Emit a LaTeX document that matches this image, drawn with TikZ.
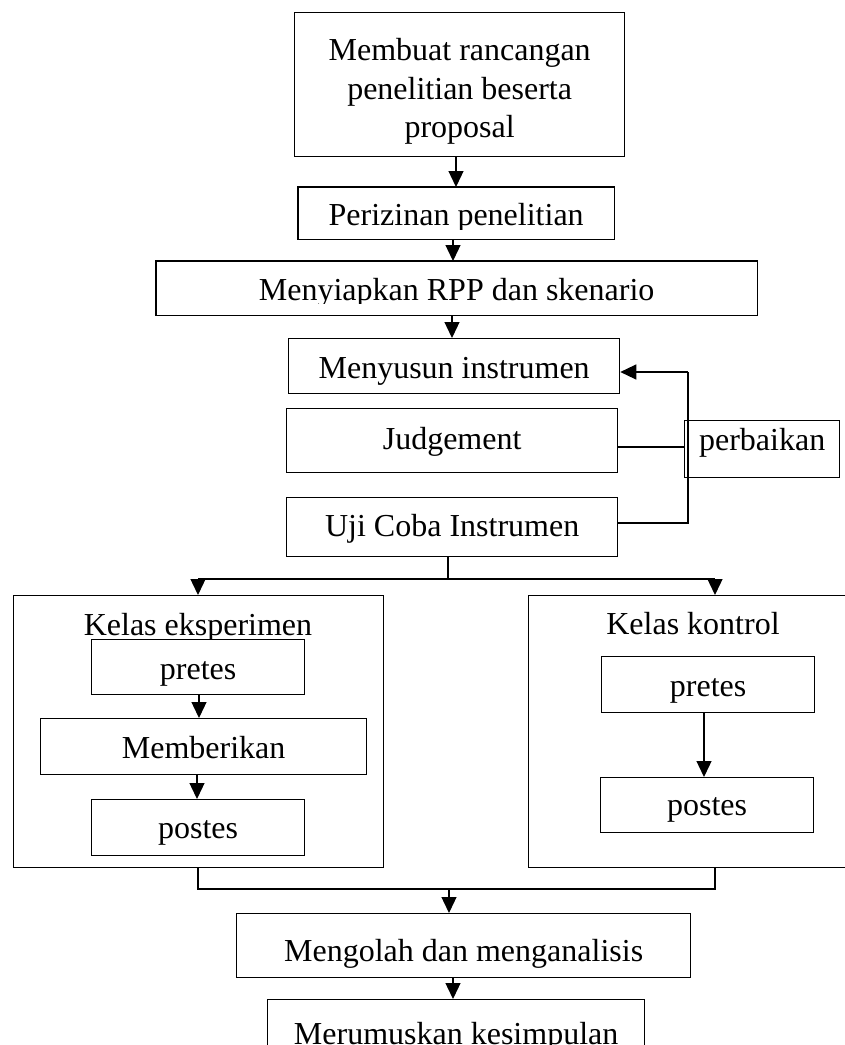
\documentclass[tikz,border=0pt]{standalone}
\usepackage{fontspec}
\setmainfont{Liberation Serif}
\usetikzlibrary{arrows.meta}
\newcommand\myfs{\fontsize{32}{38.5}\selectfont}
\begin{document}
\begin{tikzpicture}[x=1pt,y=-1pt,
  box/.style={draw, line width=1.3pt, inner sep=0pt, anchor=north west, font=\myfs, text depth=0pt},
  bw/.style={minimum width=#1},
  bh/.style={minimum height=#1},
  off/.style={text height=#1},
  conn/.style={line width=1.3pt},
  arr/.style={line width=1.3pt, -{Triangle[length=16pt,width=15pt]}},
  lbl/.style={inner sep=0pt, anchor=base, font=\myfs}
]
\useasboundingbox (0,0) rectangle (845,1045);
\clip (0,0) rectangle (845,1045);

% top chain
\node[box, bw=330, bh=144, text height=0pt, text depth=48pt] (b1) at (294,12)
  {\begin{tabular}[t]{@{}c@{}}Membuat rancangan\\penelitian beserta\\proposal\end{tabular}};

\begin{scope}
  \clip (280,180) rectangle (630,229);
  \node[box, draw=none, bw=315, bh=51, off=25pt] (b2) at (298,187) {Perizinan penelitian};
\end{scope}
\draw[line width=1.3pt] (b2.north west) rectangle (b2.south east);

\begin{scope}
  \clip (140,255) rectangle (770,303);
  \node[box, draw=none, bw=600, bh=53, off=25pt] (b3) at (156,261) {Menyiapkan RPP dan skenario};
\end{scope}
\draw[line width=1.3pt] (b3.north west) rectangle (b3.south east);

\node[box, bw=331, bh=55, off=25pt] (b4) at (288,338) {Menyusun instrumen};
\node[box, bw=331, bh=64, off=18pt] (b5) at (286,408) {Judgement};
\node[box, bw=331, bh=59, off=19pt] (b6) at (286,497) {Uji Coba Instrumen};
\node[box, bw=155, bh=57, off=3pt] (perb) at (684,420) {perbaikan};

% big class boxes
\node[box, bw=370, bh=272] (kE) at (13,595) {};
\node[box, bw=340, bh=272] (kK) at (528,595) {};
\node[lbl] (kEl) at (198,635) {Kelas eksperimen};
\node[lbl] (kKl) at (693,634) {Kelas kontrol};

\node[box, fill=white, bw=213, bh=55, off=25pt] (preE) at (91,639) {pretes};
\node[box, bw=326, bh=56, off=24pt] (mem) at (40,718) {Memberikan};
\node[box, bw=213, bh=56, off=22pt] (postE) at (91,799) {postes};

\node[box, bw=213, bh=56, off=24pt] (preK) at (601,656) {pretes};
\node[box, bw=213, bh=55, off=21pt] (postK) at (600,777) {postes};

\node[box, bw=454, bh=64, off=32pt] (ola) at (236,913) {Mengolah dan menganalisis};
\node[box, bw=377, bh=81, off=9pt] (rum) at (267,999) {Merumuskan kesimpulan};

% helper coordinates
\coordinate (xa) at (456,0);
\coordinate (xb) at (453,0);
\coordinate (xc) at (452,0);
\coordinate (xs) at (448,0);
\coordinate (xl) at (198,0);
\coordinate (xr) at (715,0);
\coordinate (xm) at (449,0);
\coordinate (yfb) at (0,372);
\coordinate (yj) at (0,447);
\coordinate (yu) at (0,523);
\coordinate (vx) at (688,0);
\coordinate (sp) at (448,579);
\coordinate (spl) at (198,579);
\coordinate (spr) at (715,579);
\coordinate (mg) at (449,889);
\coordinate (mgl) at (198,889);
\coordinate (mgr) at (715,889);
\coordinate (xe1) at (199,0);
\coordinate (xe2) at (197,0);
\coordinate (xk) at (704,0);

% connectors
\draw[arr] (b1.south -| xa) -- (b2.north -| xa);
\draw[arr] (b2.south -| xb) -- (b3.north -| xb);
\draw[arr] (b3.south -| xc) -- (b4.north -| xc);

\draw[conn] (b6.east |- yu) -- (vx |- yu) -- (vx |- yfb);
\draw[arr] (vx |- yfb) -- (b4.east |- yfb);
\draw[conn] (b5.east |- yj) -- (perb.west |- yj);

\draw[conn] (b6.south -| xs) -- (sp);
\draw[conn] (spl) -- (spr);
\draw[arr] (spl) -- (kE.north -| spl);
\draw[arr] (spr) -- (kK.north -| spr);

\draw[arr] (preE.south -| xe1) -- (mem.north -| xe1);
\draw[arr] (mem.south -| xe2) -- (postE.north -| xe2);
\draw[arr] (preK.south -| xk) -- (postK.north -| xk);

\draw[conn] (kE.south -| mgl) -- (mgl) -- (mgr) -- (kK.south -| mgr);
\draw[arr] (mg) -- (ola.north -| mg);
\draw[arr] (ola.south -| xb) -- (rum.north -| xb);
\end{tikzpicture}
\end{document}
